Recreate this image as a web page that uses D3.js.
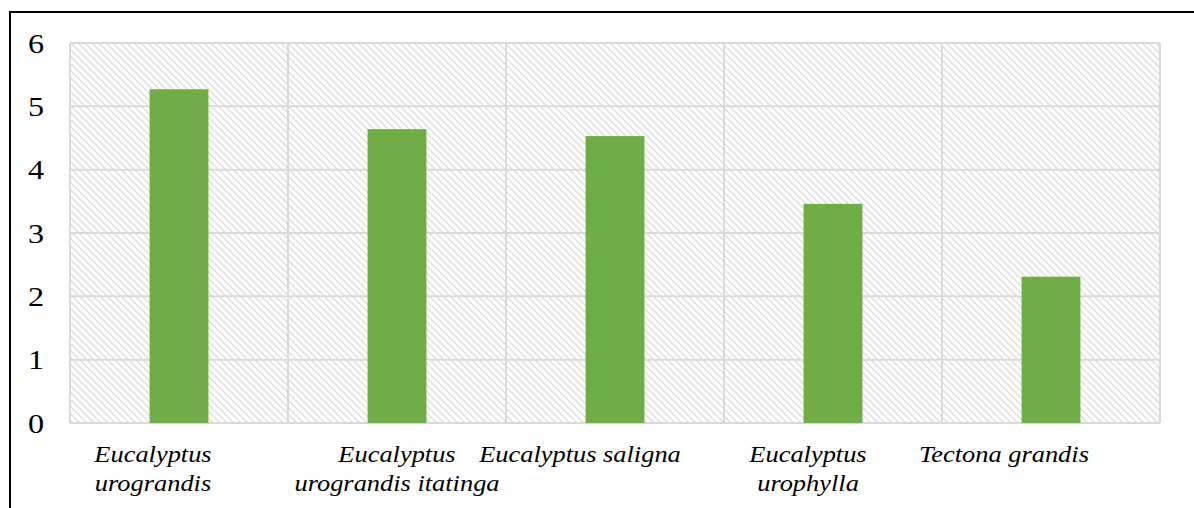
<!DOCTYPE html>
<html>
<head>
<meta charset="utf-8">
<script src="https://cdn.jsdelivr.net/npm/d3@7"></script>
<style>
  body { margin: 0; background: #fff; }
  svg { display: block; }
</style>
</head>
<body>
<svg id="chart" width="1194" height="508"></svg>
<script>
// data
var species = [
    ["Eucalyptus", "urograndis"],
    ["Eucalyptus", "urograndis itatinga"],
    ["Eucalyptus saligna"],
    ["Eucalyptus", "urophylla"],
    ["Tectona grandis"]
];
var values = [5.27, 4.64, 4.53, 3.46, 2.31];
var yTicks = [0, 1, 2, 3, 4, 5, 6];

var svg = d3.select("#chart");
var plotL = 70, plotR = 1160, plotT = 43, plotB = 423;
var serif = "'Liberation Serif', 'Times New Roman', serif";

// outer black frame (cut off at right and bottom)
svg.append("rect")
    .attr("x", 10).attr("y", 12)
    .attr("width", 1200).attr("height", 520)
    .attr("fill", "none")
    .attr("stroke", "#000")
    .attr("stroke-width", 2);

// hatch fill for the plot area
var defs = svg.append("defs");
var pat = defs.append("pattern")
    .attr("id", "hatch")
    .attr("patternUnits", "userSpaceOnUse")
    .attr("width", 7).attr("height", 7);
pat.append("rect").attr("width", 7).attr("height", 7).attr("fill", "#fff");
pat.append("path")
    .attr("d", "M0,0 L7,7 M-1,6 L1,8 M6,-1 L8,1")
    .attr("stroke", "#dcdcdc")
    .attr("stroke-width", 1.3);

var x = d3.scaleBand()
    .domain(d3.range(values.length))
    .range([plotL, plotR]);

var y = d3.scaleLinear()
    .domain([0, 6])
    .range([plotB, plotT]);

svg.append("rect")
    .attr("x", plotL).attr("y", plotT)
    .attr("width", plotR - plotL).attr("height", plotB - plotT)
    .attr("fill", "url(#hatch)");

// horizontal gridlines
svg.append("g").selectAll("line")
    .data(yTicks)
    .enter().append("line")
    .attr("x1", plotL).attr("x2", plotR)
    .attr("y1", function(d) { return y(d); })
    .attr("y2", function(d) { return y(d); })
    .attr("stroke", "#d9d9d9")
    .attr("stroke-width", 2);

// vertical gridlines at category edges
var edges = d3.range(values.length + 1);
svg.append("g").selectAll("line")
    .data(edges)
    .enter().append("line")
    .attr("x1", function(i) { return plotL + i * x.bandwidth(); })
    .attr("x2", function(i) { return plotL + i * x.bandwidth(); })
    .attr("y1", plotT).attr("y2", plotB)
    .attr("stroke", "#d9d9d9")
    .attr("stroke-width", 2);

// bars
var barW = x.bandwidth() * 0.27;
svg.append("g").selectAll("rect")
    .data(values)
    .enter().append("rect")
    .attr("x", function(d, i) { return x(i) + x.bandwidth() / 2 - barW / 2; })
    .attr("y", function(d) { return y(d); })
    .attr("width", barW)
    .attr("height", function(d) { return plotB - y(d); })
    .attr("fill", "#70ad47");

// y axis labels (the source text is a bit stretched sideways)
svg.append("g").selectAll("text")
    .data(yTicks)
    .enter().append("text")
    .attr("transform", function(d) { return "translate(44," + y(d) + ") scale(1.15,1)"; })
    .attr("dy", "0.34em")
    .attr("text-anchor", "end")
    .style("font-family", serif)
    .style("font-size", "28px")
    .style("fill", "#000")
    .text(function(d) { return d; });

// category labels, nudged like the original layout
var labelNudge = [-26, 0, -35, -25, -47];
var lab = svg.append("g").selectAll("text")
    .data(species)
    .enter().append("text")
    .attr("text-anchor", "middle")
    .attr("transform", function(d, i) {
        return "translate(" + (x(i) + x.bandwidth() / 2 + labelNudge[i]) + ",462) scale(1.1,1)";
    })
    .style("font-family", serif)
    .style("font-style", "italic")
    .style("font-size", "24px")
    .style("fill", "#000");

lab.selectAll("tspan")
    .data(function(d) { return d; })
    .enter().append("tspan")
    .attr("x", 0)
    .attr("y", function(d, j) { return j * 29; })
    .text(function(d) { return d; });
</script>
</body>
</html>
